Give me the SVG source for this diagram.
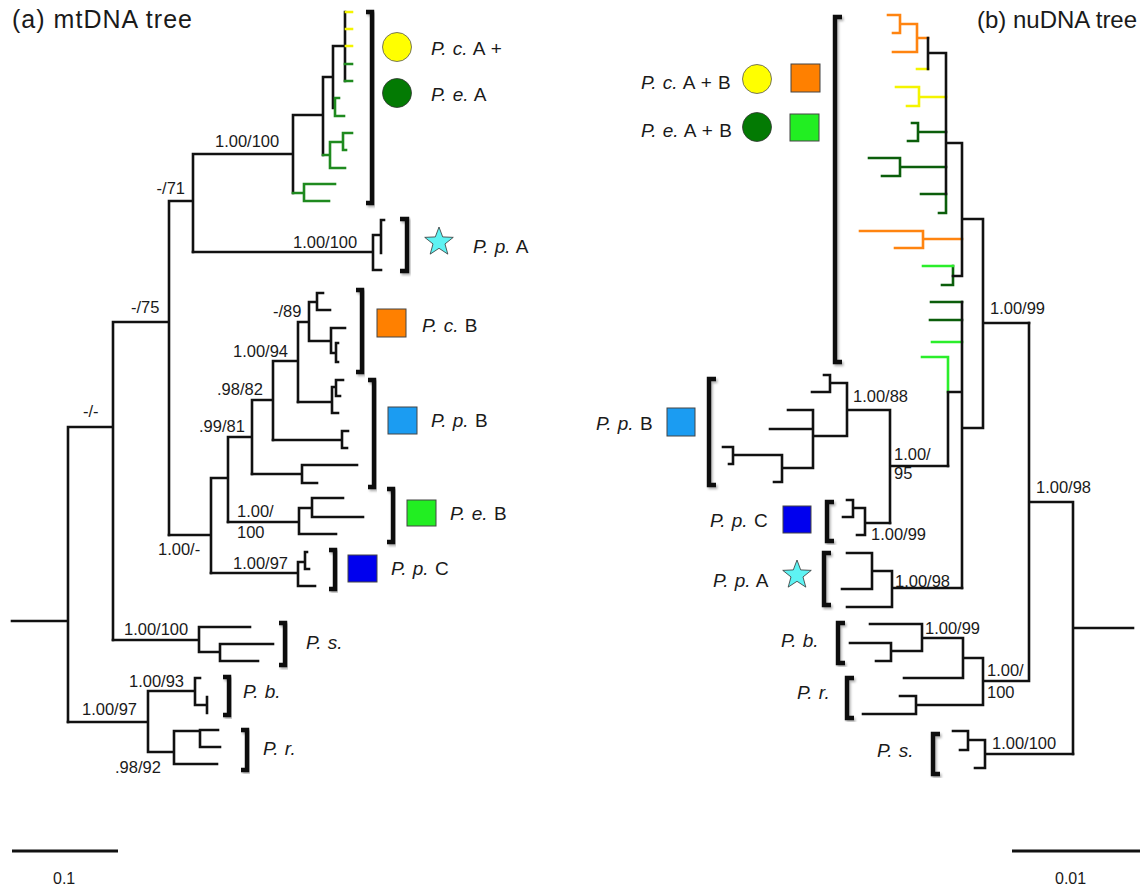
<svg xmlns="http://www.w3.org/2000/svg" width="1145" height="888" viewBox="0 0 1145 888">
<style>
text{font-family:"Liberation Sans",Arial,sans-serif;fill:#1a1a1a}
.sup{font-size:16.5px}
.sp{font-size:19px;word-spacing:1px}
.i{font-style:italic}
.title{font-size:24px}
.scl{font-size:16px}
.br{fill:none;stroke:#111;stroke-width:2.6;stroke-linecap:square;stroke-linejoin:miter}
.g1{stroke:#1f8a1f}
.g2{stroke:#0b5e0b}
.lg{stroke:#2bee2b}
.or{stroke:#ff8410}
.ye{stroke:#f4f400}
.bk{fill:none;stroke:#111;stroke-width:4.4;stroke-linejoin:miter;stroke-linecap:butt;filter:url(#sh)}
.sq{stroke:#444;stroke-width:1}
</style>
<defs>
<filter id="sh" x="-50%" y="-10%" width="200%" height="120%">
<feDropShadow dx="1.5" dy="2" stdDeviation="1.2" flood-color="#000" flood-opacity="0.3"/>
</filter>
<path id="star" d="M0,-15 L3.7,-5.1 L14.27,-4.64 L5.99,1.95 L8.82,12.14 L0,6.3 L-8.82,12.14 L-5.99,1.95 L-14.27,-4.64 L-3.7,-5.1 Z" fill="#5ef3f3" stroke="#333" stroke-width="0.8"/>
</defs>
<rect width="1145" height="888" fill="#fff"/>

<g id="connectors">
<!-- left tree (a) -->
<path class="br" d="M12 621H68M68 427V722M68 427H113M113 322V640M113 322H169M169 201V535M169 201H193M193 154V252M193 154H293M293 115V193M293 115H323M323 77V155M323 77H333M333 46V108M333 46H345M345 12V81"/>
<path class="br" d="M193 252H373M373 235V270M373 235H381M373 270H381M381 220V253M381 220H384"/>
<path class="br g1" d="M293 193H304M304 184V201M304 184H335M304 201H329M323 155H330M330 142V168M330 142H343M330 168H345M343 133V150M343 133H352M343 150H346M335 98V116M335 98H339M335 116H344M345 64H352M345 81H352"/>
<path class="br ye" d="M346 12H352M346 29H352M346 46H352"/>
<path class="br" d="M169 535H211M211 478V573M211 478H228M228 437V522M228 437H252M252 400V474M252 400H273M273 361V440M273 361H298M298 322V402M298 322H309M309 302V341M309 302H317M317 293V310M317 293H323M317 310H330M309 341H331M331 328V353M331 328H345M331 353H336M336 343V362M336 343H338M336 362H338"/>
<path class="br" d="M298 402H332M332 387V413M332 387H336M332 413H338M336 380V396M336 380H343M336 396H340M273 440H342M342 431V448M342 431H348M342 448H347M252 474H302M302 465V483M302 465H357M302 483H317"/>
<path class="br" d="M228 522H299M299 508V534M299 508H312M312 498V517M312 498H343M312 517H363M299 534H336M211 573H298M298 562V586M298 562H305M298 586H315M305 552V569M305 552H307M305 569H309"/>
<path class="br" d="M113 640H199M199 627V652M199 627H250M199 652H220M220 644V661M220 644H273M220 661H258M68 722H148M148 691V752M148 691H195M195 678V705M195 678H200M195 705H207M207 697V713M148 752H174M174 731V764M174 731H200M200 730V747M200 730H218M200 747H220M174 764H217"/>
<!-- right tree (b) -->
<path class="br or" d="M888 15H900M900 15V33M893 33H900M900 24H917M917 24V52M893 52H917M917 38H928M923 239H962M923 231V248M860 231H923M895 248H923"/>
<path class="br ye" d="M917 69H928M896 87H919M919 87V106M907 106H919M919 97H946"/>
<path class="br g2" d="M912 123H918M918 123V141M908 141H918M918 132H946M869 158H900M900 158V176M882 176H900M900 167H946M921 194H946M939 213H946M946 194V213M953 266V285M942 285H953M931 302H962M930 320H962"/>
<path class="br lg" d="M923 266H953M932 342H962M922 357H948M948 357V392"/>
<path class="br" d="M928 38V69M928 53H946M946 53V194M946 143H962M962 143V276M962 219H983M983 219V428M953 276H962M948 392H962M948 392V466M962 302V588M962 428H983M983 323H1029"/>
<path class="br" d="M890 466H948M890 410V523M847 410H890M847 383V436M830 383H847M830 375V392M824 375H830M812 392H830M813 436H847M813 410V468M788 410H813M770 429H813M782 468H813M782 455V482M733 455H782M733 447V464M723 447H733M729 464H733M774 482H782"/>
<path class="br" d="M865 523H890M865 508V535M853 508H865M853 500V517M847 500H853M843 517H853M857 535H865M892 588H962M892 571V607M872 571H892M872 553V589M847 553H872M842 589H872M847 607H892"/>
<path class="br" d="M1029 323V681M1029 502H1073M1073 502V754M1073 628H1133M983 681H1029M983 658V705M963 658H983M916 705H983M963 638V678M922 638H963M904 678H963M922 624V651M870 624H922M891 651H922M891 643V661M850 643H891M876 661H891M916 696V714M900 696H916M863 714H916"/>
<path class="br" d="M985 754H1073M985 740V768M968 740H985M968 731V750M953 731H968M960 750H968M975 768H985"/>
</g>

<g id="support-a">
<text class="sup" x="83" y="417">-/-</text>
<text class="sup" x="131" y="313">-/75</text>
<text class="sup" x="185" y="194" text-anchor="end">-/71</text>
<text class="sup" x="215" y="147">1.00/100</text>
<text class="sup" x="293" y="248">1.00/100</text>
<text class="sup" x="273" y="317">-/89</text>
<text class="sup" x="233" y="357">1.00/94</text>
<text class="sup" x="217" y="395">.98/82</text>
<text class="sup" x="199" y="432">.99/81</text>
<text class="sup" x="237" y="517">1.00/</text>
<text class="sup" x="237" y="538">100</text>
<text class="sup" x="158" y="555">1.00/-</text>
<text class="sup" x="233" y="569">1.00/97</text>
<text class="sup" x="124" y="635">1.00/100</text>
<text class="sup" x="129" y="687">1.00/93</text>
<text class="sup" x="82" y="715">1.00/97</text>
<text class="sup" x="115" y="773">.98/92</text>
</g>
<g id="support-b">
<text class="sup" x="853" y="402">1.00/88</text>
<text class="sup" x="894" y="460">1.00/</text>
<text class="sup" x="894" y="479">95</text>
<text class="sup" x="871" y="540">1.00/99</text>
<text class="sup" x="895" y="587">1.00/98</text>
<text class="sup" x="990" y="314">1.00/99</text>
<text class="sup" x="1036" y="493">1.00/98</text>
<text class="sup" x="925" y="634">1.00/99</text>
<text class="sup" x="987" y="676">1.00/</text>
<text class="sup" x="987" y="698">100</text>
<text class="sup" x="992" y="749">1.00/100</text>
</g>

<g id="title-a"><text class="title" x="12" y="28" style="font-size:25px" textLength="180">(a) mtDNA tree</text></g>
<g id="title-b"><text class="title" x="977" y="28">(b) nuDNA tree</text></g>

<!-- left clades -->
<g id="a-PcA-PeA">
<path class="bk" d="M366 12H372V203H366"/>
<circle cx="397" cy="47" r="14.5" fill="#ffff00" stroke="#555" stroke-width="0.8"/>
<circle cx="397" cy="93" r="14.5" fill="#037a03" stroke="#333" stroke-width="0.8"/>
<text class="sp" x="431" y="55"><tspan class="i">P. c.</tspan> A +</text>
<text class="sp" x="431" y="101"><tspan class="i">P. e.</tspan> A</text>
</g>
<g id="a-PpA">
<path class="bk" d="M400 219H407V271H400"/>
<use href="#star" x="439" y="242"/>
<text class="sp" x="473" y="253"><tspan class="i">P. p.</tspan> A</text>
</g>
<g id="a-PcB">
<path class="bk" d="M356 290H362V372H356"/>
<rect class="sq" x="377" y="309" width="29" height="28" fill="#ff8000"/>
<text class="sp" x="422" y="332"><tspan class="i">P. c.</tspan> B</text>
</g>
<g id="a-PpB">
<path class="bk" d="M368 380H374V487H368"/>
<rect class="sq" x="388" y="407" width="29" height="27" fill="#1b9cf2"/>
<text class="sp" x="431" y="427"><tspan class="i">P. p.</tspan> B</text>
</g>
<g id="a-PeB">
<path class="bk" d="M387 489H393V542H387"/>
<rect class="sq" x="407" y="500" width="29" height="26" fill="#22ee22"/>
<text class="sp" x="450" y="520"><tspan class="i">P. e.</tspan> B</text>
</g>
<g id="a-PpC">
<path class="bk" d="M329 550H335V589H329"/>
<rect class="sq" x="348" y="555" width="29" height="27" fill="#0000ee"/>
<text class="sp" x="391" y="575"><tspan class="i">P. p.</tspan> C</text>
</g>
<g id="a-Ps">
<path class="bk" d="M279 623H285V665H279"/>
<text class="sp i" x="306" y="649">P. s.</text>
</g>
<g id="a-Pb">
<path class="bk" d="M223 677H229V715H223"/>
<text class="sp i" x="243" y="698">P. b.</text>
</g>
<g id="a-Pr">
<path class="bk" d="M241 730H247V770H241"/>
<text class="sp i" x="263" y="755">P. r.</text>
</g>

<!-- right clades -->
<g id="b-PcPe">
<path class="bk" d="M842 17H835V362H842"/>
<text class="sp" x="641" y="89"><tspan class="i">P. c.</tspan> A + B</text>
<text class="sp" x="641" y="137"><tspan class="i">P. e.</tspan> A + B</text>
<circle cx="757" cy="79" r="14.5" fill="#ffff00" stroke="#555" stroke-width="0.8"/>
<circle cx="757" cy="127" r="14.5" fill="#037a03" stroke="#333" stroke-width="0.8"/>
<rect class="sq" x="791" y="64" width="29" height="28" fill="#ff8000"/>
<rect class="sq" x="790" y="114" width="29" height="27" fill="#22ee22"/>
</g>
<g id="b-PpB">
<path class="bk" d="M716 379H709V485H716"/>
<rect class="sq" x="667" y="408" width="28" height="28" fill="#1b9cf2"/>
<text class="sp" x="596" y="430"><tspan class="i">P. p.</tspan> B</text>
</g>
<g id="b-PpC">
<path class="bk" d="M834 502H827V541H834"/>
<rect class="sq" x="783" y="506" width="28" height="27" fill="#0000ee"/>
<text class="sp" x="710" y="527"><tspan class="i">P. p.</tspan> C</text>
</g>
<g id="b-PpA">
<path class="bk" d="M831 553H824V605H831"/>
<use href="#star" x="797" y="575"/>
<text class="sp" x="713" y="587"><tspan class="i">P. p.</tspan> A</text>
</g>
<g id="b-Pb">
<path class="bk" d="M845 623H838V663H845"/>
<text class="sp i" x="781" y="647">P. b.</text>
</g>
<g id="b-Pr">
<path class="bk" d="M854 678H847V718H854"/>
<text class="sp i" x="797" y="699">P. r.</text>
</g>
<g id="b-Ps">
<path class="bk" d="M940 734H933V774H940"/>
<text class="sp i" x="877" y="757">P. s.</text>
</g>

<g id="scale-a">
<path d="M12 851H118" stroke="#111" stroke-width="3"/>
<text class="scl" x="53" y="884">0.1</text>
</g>
<g id="scale-b">
<path d="M1012 851H1140" stroke="#111" stroke-width="3"/>
<text class="scl" x="1055" y="884">0.01</text>
</g>
</svg>
